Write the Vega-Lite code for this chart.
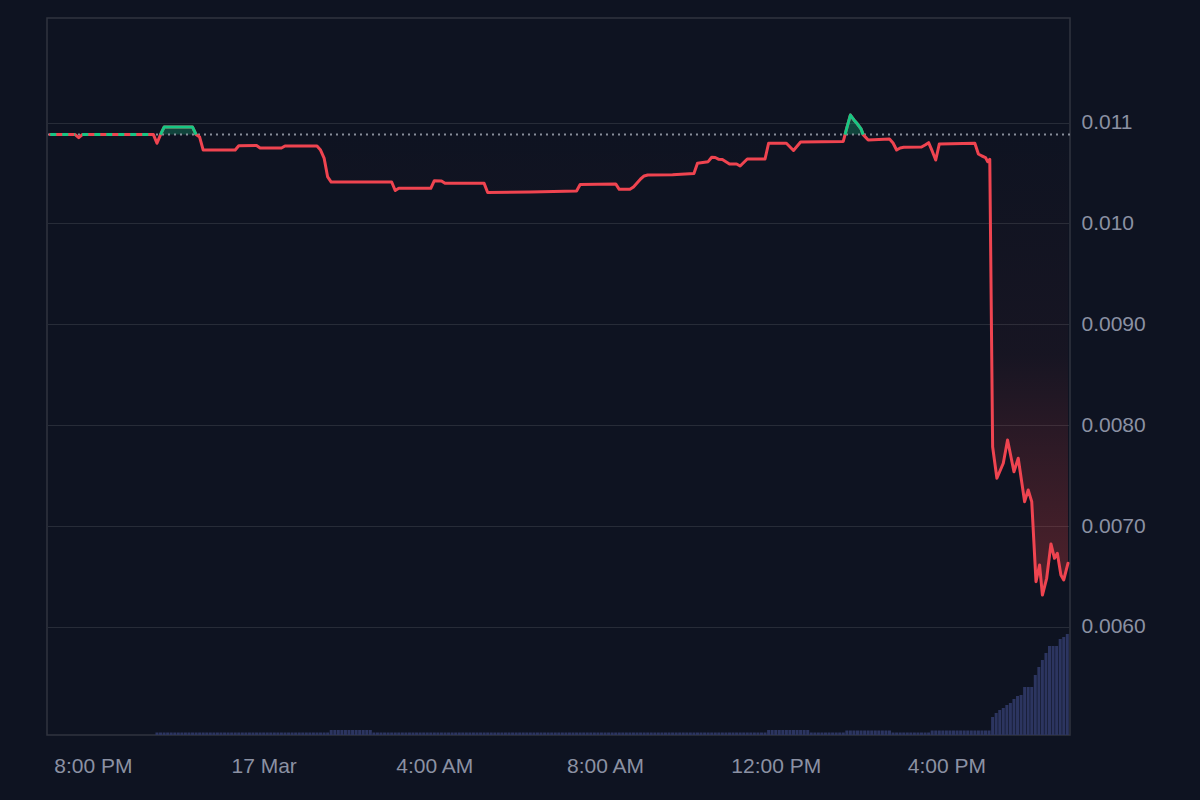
{
  "$schema": "https://vega.github.io/schema/vega-lite/v6.json",
  "width": 1023,
  "height": 717,
  "autosize": {"type": "none"},
  "padding": {"left": 47, "top": 18, "right": 130, "bottom": 65},
  "background": "#0e1321",
  "config": {
    "view": {"stroke": "#30343f", "strokeWidth": 1.5},
    "scale": {"continuousPadding": 0},
    "axis": {"title": null, "domain": false, "ticks": false, "tickSize": 0, "labelColor": "#8b91a3", "labelFont": "Liberation Sans", "labelFontSize": 21, "grid": false, "labelFlush": false, "labelOverlap": false}
  },
  "datasets": {
    "px": [
      {"t": "2024-03-16T19:00", "p": 0.01088},
      {"t": "2024-03-16T19:35", "p": 0.01088},
      {"t": "2024-03-16T19:40", "p": 0.010849},
      {"t": "2024-03-16T19:45", "p": 0.01088},
      {"t": "2024-03-16T21:25", "p": 0.01088},
      {"t": "2024-03-16T21:30", "p": 0.010794},
      {"t": "2024-03-16T21:35", "p": 0.01088},
      {"t": "2024-03-16T21:40", "p": 0.010955},
      {"t": "2024-03-16T22:20", "p": 0.010955},
      {"t": "2024-03-16T22:25", "p": 0.01088},
      {"t": "2024-03-16T22:30", "p": 0.010856},
      {"t": "2024-03-16T22:35", "p": 0.010727},
      {"t": "2024-03-16T23:20", "p": 0.010727},
      {"t": "2024-03-16T23:25", "p": 0.01077},
      {"t": "2024-03-16T23:50", "p": 0.010772},
      {"t": "2024-03-16T23:55", "p": 0.010747},
      {"t": "2024-03-17T00:25", "p": 0.010747},
      {"t": "2024-03-17T00:30", "p": 0.010767},
      {"t": "2024-03-17T01:15", "p": 0.010767},
      {"t": "2024-03-17T01:20", "p": 0.010727},
      {"t": "2024-03-17T01:25", "p": 0.010648},
      {"t": "2024-03-17T01:30", "p": 0.01046},
      {"t": "2024-03-17T01:35", "p": 0.01041},
      {"t": "2024-03-17T03:00", "p": 0.01041},
      {"t": "2024-03-17T03:05", "p": 0.010326},
      {"t": "2024-03-17T03:10", "p": 0.010348},
      {"t": "2024-03-17T03:55", "p": 0.010348},
      {"t": "2024-03-17T04:00", "p": 0.010423},
      {"t": "2024-03-17T04:10", "p": 0.01042},
      {"t": "2024-03-17T04:15", "p": 0.010397},
      {"t": "2024-03-17T05:10", "p": 0.010397},
      {"t": "2024-03-17T05:15", "p": 0.010306},
      {"t": "2024-03-17T06:15", "p": 0.010311},
      {"t": "2024-03-17T07:20", "p": 0.010321},
      {"t": "2024-03-17T07:25", "p": 0.010386},
      {"t": "2024-03-17T08:15", "p": 0.010391},
      {"t": "2024-03-17T08:20", "p": 0.010338},
      {"t": "2024-03-17T08:35", "p": 0.010338},
      {"t": "2024-03-17T08:40", "p": 0.010361},
      {"t": "2024-03-17T08:45", "p": 0.0104},
      {"t": "2024-03-17T08:50", "p": 0.01044},
      {"t": "2024-03-17T08:55", "p": 0.01047},
      {"t": "2024-03-17T09:00", "p": 0.01048},
      {"t": "2024-03-17T09:35", "p": 0.010482},
      {"t": "2024-03-17T10:05", "p": 0.010495},
      {"t": "2024-03-17T10:10", "p": 0.010596},
      {"t": "2024-03-17T10:25", "p": 0.010612},
      {"t": "2024-03-17T10:30", "p": 0.010655},
      {"t": "2024-03-17T10:35", "p": 0.010653},
      {"t": "2024-03-17T10:40", "p": 0.010635},
      {"t": "2024-03-17T10:45", "p": 0.010633},
      {"t": "2024-03-17T10:55", "p": 0.010589},
      {"t": "2024-03-17T11:05", "p": 0.010589},
      {"t": "2024-03-17T11:10", "p": 0.010569},
      {"t": "2024-03-17T11:20", "p": 0.010638},
      {"t": "2024-03-17T11:45", "p": 0.010638},
      {"t": "2024-03-17T11:50", "p": 0.010794},
      {"t": "2024-03-17T12:15", "p": 0.010794},
      {"t": "2024-03-17T12:25", "p": 0.010723},
      {"t": "2024-03-17T12:35", "p": 0.010807},
      {"t": "2024-03-17T13:35", "p": 0.010812},
      {"t": "2024-03-17T13:37:30", "p": 0.01088},
      {"t": "2024-03-17T13:40", "p": 0.010946},
      {"t": "2024-03-17T13:45", "p": 0.011074},
      {"t": "2024-03-17T13:50", "p": 0.011025},
      {"t": "2024-03-17T13:55", "p": 0.010985},
      {"t": "2024-03-17T14:00", "p": 0.010936},
      {"t": "2024-03-17T14:03", "p": 0.01088},
      {"t": "2024-03-17T14:10", "p": 0.010827},
      {"t": "2024-03-17T14:40", "p": 0.010837},
      {"t": "2024-03-17T14:45", "p": 0.010797},
      {"t": "2024-03-17T14:50", "p": 0.010727},
      {"t": "2024-03-17T14:55", "p": 0.010747},
      {"t": "2024-03-17T15:00", "p": 0.010754},
      {"t": "2024-03-17T15:25", "p": 0.010757},
      {"t": "2024-03-17T15:30", "p": 0.010777},
      {"t": "2024-03-17T15:35", "p": 0.0108},
      {"t": "2024-03-17T15:40", "p": 0.010718},
      {"t": "2024-03-17T15:45", "p": 0.010628},
      {"t": "2024-03-17T15:50", "p": 0.010787},
      {"t": "2024-03-17T16:40", "p": 0.010794},
      {"t": "2024-03-17T16:45", "p": 0.010688},
      {"t": "2024-03-17T16:50", "p": 0.010668},
      {"t": "2024-03-17T16:55", "p": 0.010653},
      {"t": "2024-03-17T16:58", "p": 0.010612},
      {"t": "2024-03-17T17:01", "p": 0.010635},
      {"t": "2024-03-17T17:05", "p": 0.007787},
      {"t": "2024-03-17T17:11", "p": 0.007474},
      {"t": "2024-03-17T17:20", "p": 0.007623},
      {"t": "2024-03-17T17:26", "p": 0.007854},
      {"t": "2024-03-17T17:35", "p": 0.007539},
      {"t": "2024-03-17T17:41", "p": 0.007672},
      {"t": "2024-03-17T17:50", "p": 0.007242},
      {"t": "2024-03-17T17:55", "p": 0.007358},
      {"t": "2024-03-17T18:00", "p": 0.007242},
      {"t": "2024-03-17T18:06", "p": 0.006449},
      {"t": "2024-03-17T18:11", "p": 0.006615},
      {"t": "2024-03-17T18:15", "p": 0.006317},
      {"t": "2024-03-17T18:21", "p": 0.006483},
      {"t": "2024-03-17T18:27", "p": 0.006823},
      {"t": "2024-03-17T18:32", "p": 0.006681},
      {"t": "2024-03-17T18:36", "p": 0.006731},
      {"t": "2024-03-17T18:41", "p": 0.006516},
      {"t": "2024-03-17T18:45", "p": 0.006466},
      {"t": "2024-03-17T18:51", "p": 0.006632}
    ],
    "up": [
      {"t": "2024-03-16T19:00", "p": 0.01088, "seg": "a"},
      {"t": "2024-03-16T19:35", "p": 0.01088, "seg": "a"},
      {"t": "2024-03-16T19:45", "p": 0.01088, "seg": "b"},
      {"t": "2024-03-16T21:25", "p": 0.01088, "seg": "b"},
      {"t": "2024-03-16T21:35", "p": 0.01088, "seg": "c"},
      {"t": "2024-03-16T21:40", "p": 0.010955, "seg": "c"},
      {"t": "2024-03-16T22:20", "p": 0.010955, "seg": "c"},
      {"t": "2024-03-16T22:25", "p": 0.01088, "seg": "c"},
      {"t": "2024-03-17T13:37:30", "p": 0.01088, "seg": "d"},
      {"t": "2024-03-17T13:40", "p": 0.010946, "seg": "d"},
      {"t": "2024-03-17T13:45", "p": 0.011074, "seg": "d"},
      {"t": "2024-03-17T13:50", "p": 0.011025, "seg": "d"},
      {"t": "2024-03-17T13:55", "p": 0.010985, "seg": "d"},
      {"t": "2024-03-17T14:00", "p": 0.010936, "seg": "d"},
      {"t": "2024-03-17T14:03", "p": 0.01088, "seg": "d"}
    ],
    "vol": [
      {"t": "2024-03-16T21:30", "v": 25}, {"t": "2024-03-16T21:35", "v": 25}, {"t": "2024-03-16T21:40", "v": 25}, {"t": "2024-03-16T21:45", "v": 25}, {"t": "2024-03-16T21:50", "v": 25}, {"t": "2024-03-16T21:55", "v": 25},
      {"t": "2024-03-16T22:00", "v": 25}, {"t": "2024-03-16T22:05", "v": 25}, {"t": "2024-03-16T22:10", "v": 25}, {"t": "2024-03-16T22:15", "v": 25}, {"t": "2024-03-16T22:20", "v": 25}, {"t": "2024-03-16T22:25", "v": 25},
      {"t": "2024-03-16T22:30", "v": 25}, {"t": "2024-03-16T22:35", "v": 25}, {"t": "2024-03-16T22:40", "v": 25}, {"t": "2024-03-16T22:45", "v": 25}, {"t": "2024-03-16T22:50", "v": 25}, {"t": "2024-03-16T22:55", "v": 25},
      {"t": "2024-03-16T23:00", "v": 25}, {"t": "2024-03-16T23:05", "v": 25}, {"t": "2024-03-16T23:10", "v": 25}, {"t": "2024-03-16T23:15", "v": 25}, {"t": "2024-03-16T23:20", "v": 25}, {"t": "2024-03-16T23:25", "v": 25},
      {"t": "2024-03-16T23:30", "v": 25}, {"t": "2024-03-16T23:35", "v": 25}, {"t": "2024-03-16T23:40", "v": 25}, {"t": "2024-03-16T23:45", "v": 25}, {"t": "2024-03-16T23:50", "v": 25}, {"t": "2024-03-16T23:55", "v": 25},
      {"t": "2024-03-17T00:00", "v": 25}, {"t": "2024-03-17T00:05", "v": 25}, {"t": "2024-03-17T00:10", "v": 25}, {"t": "2024-03-17T00:15", "v": 25}, {"t": "2024-03-17T00:20", "v": 25}, {"t": "2024-03-17T00:25", "v": 25},
      {"t": "2024-03-17T00:30", "v": 25}, {"t": "2024-03-17T00:35", "v": 25}, {"t": "2024-03-17T00:40", "v": 25}, {"t": "2024-03-17T00:45", "v": 25}, {"t": "2024-03-17T00:50", "v": 25}, {"t": "2024-03-17T00:55", "v": 25},
      {"t": "2024-03-17T01:00", "v": 25}, {"t": "2024-03-17T01:05", "v": 25}, {"t": "2024-03-17T01:10", "v": 25}, {"t": "2024-03-17T01:15", "v": 25}, {"t": "2024-03-17T01:20", "v": 25}, {"t": "2024-03-17T01:25", "v": 25},
      {"t": "2024-03-17T01:30", "v": 25}, {"t": "2024-03-17T01:35", "v": 50}, {"t": "2024-03-17T01:40", "v": 50}, {"t": "2024-03-17T01:45", "v": 50}, {"t": "2024-03-17T01:50", "v": 50}, {"t": "2024-03-17T01:55", "v": 50},
      {"t": "2024-03-17T02:00", "v": 50}, {"t": "2024-03-17T02:05", "v": 50}, {"t": "2024-03-17T02:10", "v": 50}, {"t": "2024-03-17T02:15", "v": 50}, {"t": "2024-03-17T02:20", "v": 50}, {"t": "2024-03-17T02:25", "v": 50},
      {"t": "2024-03-17T02:30", "v": 50}, {"t": "2024-03-17T02:35", "v": 25}, {"t": "2024-03-17T02:40", "v": 25}, {"t": "2024-03-17T02:45", "v": 25}, {"t": "2024-03-17T02:50", "v": 25}, {"t": "2024-03-17T02:55", "v": 25},
      {"t": "2024-03-17T03:00", "v": 25}, {"t": "2024-03-17T03:05", "v": 25}, {"t": "2024-03-17T03:10", "v": 25}, {"t": "2024-03-17T03:15", "v": 25}, {"t": "2024-03-17T03:20", "v": 25}, {"t": "2024-03-17T03:25", "v": 25},
      {"t": "2024-03-17T03:30", "v": 25}, {"t": "2024-03-17T03:35", "v": 25}, {"t": "2024-03-17T03:40", "v": 25}, {"t": "2024-03-17T03:45", "v": 25}, {"t": "2024-03-17T03:50", "v": 25}, {"t": "2024-03-17T03:55", "v": 25},
      {"t": "2024-03-17T04:00", "v": 25}, {"t": "2024-03-17T04:05", "v": 25}, {"t": "2024-03-17T04:10", "v": 25}, {"t": "2024-03-17T04:15", "v": 25}, {"t": "2024-03-17T04:20", "v": 25}, {"t": "2024-03-17T04:25", "v": 25},
      {"t": "2024-03-17T04:30", "v": 25}, {"t": "2024-03-17T04:35", "v": 25}, {"t": "2024-03-17T04:40", "v": 25}, {"t": "2024-03-17T04:45", "v": 25}, {"t": "2024-03-17T04:50", "v": 25}, {"t": "2024-03-17T04:55", "v": 25},
      {"t": "2024-03-17T05:00", "v": 25}, {"t": "2024-03-17T05:05", "v": 25}, {"t": "2024-03-17T05:10", "v": 25}, {"t": "2024-03-17T05:15", "v": 25}, {"t": "2024-03-17T05:20", "v": 25}, {"t": "2024-03-17T05:25", "v": 25},
      {"t": "2024-03-17T05:30", "v": 25}, {"t": "2024-03-17T05:35", "v": 25}, {"t": "2024-03-17T05:40", "v": 25}, {"t": "2024-03-17T05:45", "v": 25}, {"t": "2024-03-17T05:50", "v": 25}, {"t": "2024-03-17T05:55", "v": 25},
      {"t": "2024-03-17T06:00", "v": 25}, {"t": "2024-03-17T06:05", "v": 25}, {"t": "2024-03-17T06:10", "v": 25}, {"t": "2024-03-17T06:15", "v": 25}, {"t": "2024-03-17T06:20", "v": 25}, {"t": "2024-03-17T06:25", "v": 25},
      {"t": "2024-03-17T06:30", "v": 25}, {"t": "2024-03-17T06:35", "v": 25}, {"t": "2024-03-17T06:40", "v": 25}, {"t": "2024-03-17T06:45", "v": 25}, {"t": "2024-03-17T06:50", "v": 25}, {"t": "2024-03-17T06:55", "v": 25},
      {"t": "2024-03-17T07:00", "v": 25}, {"t": "2024-03-17T07:05", "v": 25}, {"t": "2024-03-17T07:10", "v": 25}, {"t": "2024-03-17T07:15", "v": 25}, {"t": "2024-03-17T07:20", "v": 25}, {"t": "2024-03-17T07:25", "v": 25},
      {"t": "2024-03-17T07:30", "v": 25}, {"t": "2024-03-17T07:35", "v": 25}, {"t": "2024-03-17T07:40", "v": 25}, {"t": "2024-03-17T07:45", "v": 25}, {"t": "2024-03-17T07:50", "v": 25}, {"t": "2024-03-17T07:55", "v": 25},
      {"t": "2024-03-17T08:00", "v": 25}, {"t": "2024-03-17T08:05", "v": 25}, {"t": "2024-03-17T08:10", "v": 25}, {"t": "2024-03-17T08:15", "v": 25}, {"t": "2024-03-17T08:20", "v": 25}, {"t": "2024-03-17T08:25", "v": 25},
      {"t": "2024-03-17T08:30", "v": 25}, {"t": "2024-03-17T08:35", "v": 25}, {"t": "2024-03-17T08:40", "v": 25}, {"t": "2024-03-17T08:45", "v": 25}, {"t": "2024-03-17T08:50", "v": 25}, {"t": "2024-03-17T08:55", "v": 25},
      {"t": "2024-03-17T09:00", "v": 25}, {"t": "2024-03-17T09:05", "v": 25}, {"t": "2024-03-17T09:10", "v": 25}, {"t": "2024-03-17T09:15", "v": 25}, {"t": "2024-03-17T09:20", "v": 25}, {"t": "2024-03-17T09:25", "v": 25},
      {"t": "2024-03-17T09:30", "v": 25}, {"t": "2024-03-17T09:35", "v": 25}, {"t": "2024-03-17T09:40", "v": 25}, {"t": "2024-03-17T09:45", "v": 25}, {"t": "2024-03-17T09:50", "v": 25}, {"t": "2024-03-17T09:55", "v": 25},
      {"t": "2024-03-17T10:00", "v": 25}, {"t": "2024-03-17T10:05", "v": 25}, {"t": "2024-03-17T10:10", "v": 25}, {"t": "2024-03-17T10:15", "v": 25}, {"t": "2024-03-17T10:20", "v": 25}, {"t": "2024-03-17T10:25", "v": 25},
      {"t": "2024-03-17T10:30", "v": 25}, {"t": "2024-03-17T10:35", "v": 25}, {"t": "2024-03-17T10:40", "v": 25}, {"t": "2024-03-17T10:45", "v": 25}, {"t": "2024-03-17T10:50", "v": 25}, {"t": "2024-03-17T10:55", "v": 25},
      {"t": "2024-03-17T11:00", "v": 25}, {"t": "2024-03-17T11:05", "v": 25}, {"t": "2024-03-17T11:10", "v": 25}, {"t": "2024-03-17T11:15", "v": 25}, {"t": "2024-03-17T11:20", "v": 25}, {"t": "2024-03-17T11:25", "v": 25},
      {"t": "2024-03-17T11:30", "v": 25}, {"t": "2024-03-17T11:35", "v": 25}, {"t": "2024-03-17T11:40", "v": 25}, {"t": "2024-03-17T11:45", "v": 25}, {"t": "2024-03-17T11:50", "v": 50}, {"t": "2024-03-17T11:55", "v": 50},
      {"t": "2024-03-17T12:00", "v": 50}, {"t": "2024-03-17T12:05", "v": 50}, {"t": "2024-03-17T12:10", "v": 50}, {"t": "2024-03-17T12:15", "v": 50}, {"t": "2024-03-17T12:20", "v": 50}, {"t": "2024-03-17T12:25", "v": 50},
      {"t": "2024-03-17T12:30", "v": 50}, {"t": "2024-03-17T12:35", "v": 50}, {"t": "2024-03-17T12:40", "v": 50}, {"t": "2024-03-17T12:45", "v": 50}, {"t": "2024-03-17T12:50", "v": 25}, {"t": "2024-03-17T12:55", "v": 25},
      {"t": "2024-03-17T13:00", "v": 25}, {"t": "2024-03-17T13:05", "v": 25}, {"t": "2024-03-17T13:10", "v": 25}, {"t": "2024-03-17T13:15", "v": 25}, {"t": "2024-03-17T13:20", "v": 25}, {"t": "2024-03-17T13:25", "v": 25},
      {"t": "2024-03-17T13:30", "v": 25}, {"t": "2024-03-17T13:35", "v": 25}, {"t": "2024-03-17T13:40", "v": 45}, {"t": "2024-03-17T13:45", "v": 45}, {"t": "2024-03-17T13:50", "v": 45}, {"t": "2024-03-17T13:55", "v": 45},
      {"t": "2024-03-17T14:00", "v": 45}, {"t": "2024-03-17T14:05", "v": 45}, {"t": "2024-03-17T14:10", "v": 45}, {"t": "2024-03-17T14:15", "v": 45}, {"t": "2024-03-17T14:20", "v": 45}, {"t": "2024-03-17T14:25", "v": 45},
      {"t": "2024-03-17T14:30", "v": 45}, {"t": "2024-03-17T14:35", "v": 45}, {"t": "2024-03-17T14:40", "v": 45}, {"t": "2024-03-17T14:45", "v": 25}, {"t": "2024-03-17T14:50", "v": 25}, {"t": "2024-03-17T14:55", "v": 25},
      {"t": "2024-03-17T15:00", "v": 25}, {"t": "2024-03-17T15:05", "v": 25}, {"t": "2024-03-17T15:10", "v": 25}, {"t": "2024-03-17T15:15", "v": 25}, {"t": "2024-03-17T15:20", "v": 25}, {"t": "2024-03-17T15:25", "v": 25},
      {"t": "2024-03-17T15:30", "v": 25}, {"t": "2024-03-17T15:35", "v": 25}, {"t": "2024-03-17T15:40", "v": 45}, {"t": "2024-03-17T15:45", "v": 45}, {"t": "2024-03-17T15:50", "v": 45}, {"t": "2024-03-17T15:55", "v": 45},
      {"t": "2024-03-17T16:00", "v": 45}, {"t": "2024-03-17T16:05", "v": 45}, {"t": "2024-03-17T16:10", "v": 45}, {"t": "2024-03-17T16:15", "v": 45}, {"t": "2024-03-17T16:20", "v": 45}, {"t": "2024-03-17T16:25", "v": 45},
      {"t": "2024-03-17T16:30", "v": 45}, {"t": "2024-03-17T16:35", "v": 45}, {"t": "2024-03-17T16:40", "v": 45}, {"t": "2024-03-17T16:45", "v": 45}, {"t": "2024-03-17T16:50", "v": 45}, {"t": "2024-03-17T16:55", "v": 45},
      {"t": "2024-03-17T17:00", "v": 45}, {"t": "2024-03-17T17:05", "v": 180}, {"t": "2024-03-17T17:10", "v": 220}, {"t": "2024-03-17T17:15", "v": 250}, {"t": "2024-03-17T17:20", "v": 270}, {"t": "2024-03-17T17:25", "v": 300},
      {"t": "2024-03-17T17:30", "v": 320}, {"t": "2024-03-17T17:35", "v": 360}, {"t": "2024-03-17T17:40", "v": 390}, {"t": "2024-03-17T17:45", "v": 400}, {"t": "2024-03-17T17:50", "v": 480}, {"t": "2024-03-17T17:55", "v": 480},
      {"t": "2024-03-17T18:00", "v": 480}, {"t": "2024-03-17T18:05", "v": 600}, {"t": "2024-03-17T18:10", "v": 680}, {"t": "2024-03-17T18:15", "v": 750}, {"t": "2024-03-17T18:20", "v": 820}, {"t": "2024-03-17T18:25", "v": 890},
      {"t": "2024-03-17T18:30", "v": 890}, {"t": "2024-03-17T18:35", "v": 890}, {"t": "2024-03-17T18:40", "v": 960}, {"t": "2024-03-17T18:45", "v": 980}, {"t": "2024-03-17T18:50", "v": 1010}
    ]
  },
  "resolve": {"scale": {"y": "independent"}},
  "layer": [
    {
      "data": {"name": "vol"},
      "mark": {"type": "bar", "size": 3, "color": "#2c3560"},
      "encoding": {
        "x": {
          "field": "t", "type": "temporal", "title": null,
          "scale": {"padding": 0, "domain": [{"year": 2024, "month": 3, "date": 16, "hours": 18, "minutes": 55, "seconds": 22}, {"year": 2024, "month": 3, "date": 17, "hours": 18, "minutes": 53, "seconds": 48}]},
          "axis": {
            "values": [
              {"year": 2024, "month": 3, "date": 16, "hours": 20},
              {"year": 2024, "month": 3, "date": 17, "hours": 0},
              {"year": 2024, "month": 3, "date": 17, "hours": 4},
              {"year": 2024, "month": 3, "date": 17, "hours": 8},
              {"year": 2024, "month": 3, "date": 17, "hours": 12},
              {"year": 2024, "month": 3, "date": 17, "hours": 16}
            ],
            "labelExpr": "hours(datum.value) == 0 ? timeFormat(datum.value, '%-d %b') : timeFormat(datum.value, '%-I:%M %p')",
            "labelPadding": 20
          }
        },
        "y": {"field": "v", "type": "quantitative", "title": null, "scale": {"domain": [0, 7170]}, "axis": null}
      }
    },
    {
      "layer": [
        {
          "data": {"name": "px"},
          "mark": {
            "type": "area",
            "fill": {"gradient": "linear", "x1": 0, "y1": 0, "x2": 0, "y2": 1, "stops": [
              {"offset": 0, "color": "rgba(239,68,68,0)"},
              {"offset": 0.5, "color": "rgba(239,68,68,0.04)"},
              {"offset": 1, "color": "rgba(239,68,68,0.3)"}
            ]}
          },
          "encoding": {
            "x": {"field": "t", "type": "temporal", "title": null},
            "y": {
              "field": "p", "type": "quantitative", "title": null,
              "scale": {"domain": [0.0049296, 0.0120357], "nice": false, "zero": false},
              "axis": {
                "orient": "right",
                "values": [0.006, 0.007, 0.008, 0.009, 0.010, 0.011],
                "labelExpr": "datum.value > 0.0095 ? format(datum.value, '.3f') : format(datum.value, '.4f')",
                "labelPadding": 11,
                "grid": true,
                "gridColor": "#272c38",
                "gridWidth": 1
              }
            },
            "y2": {"datum": 0.01088}
          }
        },
        {
          "data": {"name": "up"},
          "transform": [{"filter": "datum.seg == 'c' || datum.seg == 'd'"}],
          "mark": {"type": "area", "color": "#16c784", "fillOpacity": 0.28},
          "encoding": {
            "x": {"field": "t", "type": "temporal", "title": null},
            "y": {"field": "p", "type": "quantitative", "title": null},
            "y2": {"datum": 0.01088},
            "detail": {"field": "seg"}
          }
        },
        {
          "data": {"values": [{}]},
          "mark": {"type": "rule", "color": "#9ca3af", "strokeWidth": 2, "strokeDash": [2, 4], "opacity": 0.85},
          "encoding": {"y": {"datum": 0.01088}}
        },
        {
          "data": {"name": "px"},
          "mark": {"type": "line", "color": "#ef4450", "strokeWidth": 3, "strokeJoin": "round", "strokeCap": "round"},
          "encoding": {
            "x": {"field": "t", "type": "temporal", "title": null},
            "y": {"field": "p", "type": "quantitative", "title": null}
          }
        },
        {
          "data": {"name": "up"},
          "transform": [{"filter": "datum.seg == 'c' || datum.seg == 'd'"}],
          "mark": {"type": "line", "color": "#16c784", "strokeWidth": 3, "strokeJoin": "round"},
          "encoding": {
            "x": {"field": "t", "type": "temporal", "title": null},
            "y": {"field": "p", "type": "quantitative", "title": null},
            "detail": {"field": "seg"}
          }
        },
        {
          "data": {"name": "up"},
          "transform": [{"filter": "datum.seg == 'a' || datum.seg == 'b'"}],
          "mark": {"type": "line", "color": "#16c784", "strokeWidth": 3, "strokeDash": [6, 6]},
          "encoding": {
            "x": {"field": "t", "type": "temporal", "title": null},
            "y": {"field": "p", "type": "quantitative", "title": null},
            "detail": {"field": "seg"}
          }
        }
      ]
    }
  ]
}
